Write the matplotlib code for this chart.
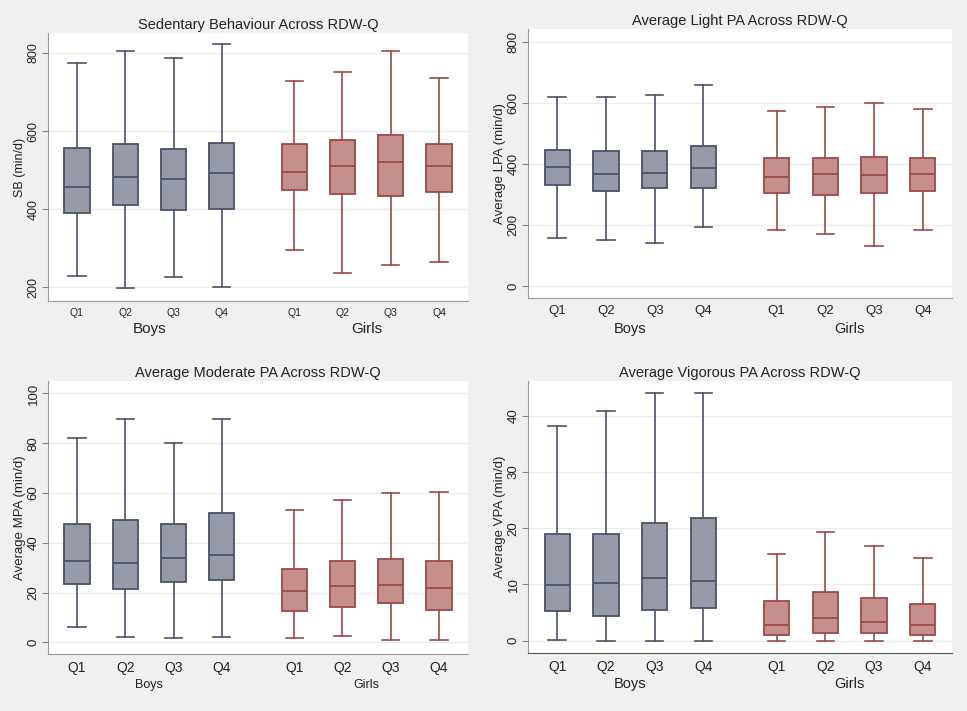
import matplotlib
matplotlib.use("Agg")
import matplotlib.pyplot as plt

plt.rcParams['font.family'] = ['Liberation Sans', 'DejaVu Sans']

quartiles = ["Q1", "Q2", "Q3", "Q4"]
groups = ["Boys", "Girls"]

# each stat row: lower whisker, Q1, median, Q3, upper whisker
sb_boys = [[230, 391, 458, 557, 774], [197, 410, 482, 568, 804],
           [226, 397, 477, 555, 787], [202, 400, 492, 570, 823]]
sb_girls = [[295, 450, 495, 566, 728], [236, 440, 510, 576, 750],
            [256, 433, 520, 589, 804], [264, 443, 511, 567, 736]]

lpa_boys = [[158, 332, 392, 447, 618], [153, 312, 369, 444, 618],
            [142, 321, 372, 444, 627], [194, 321, 388, 458, 659]]
lpa_girls = [[184, 307, 357, 419, 575], [172, 299, 367, 419, 586],
             [133, 304, 365, 424, 601], [184, 313, 367, 419, 579]]

mpa_boys = [[6.3, 23.4, 32.5, 47.5, 82.1], [2.3, 21.4, 32.0, 49.3, 89.8],
            [1.9, 24.2, 33.7, 47.4, 80.2], [2.1, 24.9, 34.9, 52.1, 89.6]]
mpa_girls = [[1.9, 12.4, 20.5, 29.6, 53.3], [2.7, 14.3, 22.6, 32.5, 57.3],
             [1.1, 15.9, 23.0, 33.6, 60.1], [0.9, 12.9, 21.8, 32.5, 60.5]]

vpa_boys = [[0.2, 5.3, 9.9, 19.0, 38.2], [0.0, 4.3, 10.3, 19.0, 40.8],
            [0.0, 5.5, 11.2, 21.0, 44.0], [0.0, 5.8, 10.6, 21.8, 44.0]]
vpa_girls = [[0.0, 1.0, 2.8, 7.0, 15.5], [0.0, 1.4, 4.0, 8.7, 19.3],
             [0.0, 1.4, 3.4, 7.5, 16.8], [0.0, 1.0, 2.8, 6.6, 14.7]]

titles = ["Sedentary Behaviour Across RDW-Q", "Average Light PA Across RDW-Q",
          "Average Moderate PA Across RDW-Q", "Average Vigorous PA Across RDW-Q"]
ylabels = ["SB (min/d)", "Average LPA (min/d)", "Average MPA (min/d)", "Average VPA (min/d)"]
yticks = [[200, 400, 600, 800], [0, 200, 400, 600, 800],
          [0, 20, 40, 60, 80, 100], [0, 10, 20, 30, 40]]
ylims = [(165, 851), (-38, 842), (-4.7, 105), (-2.2, 46.2)]

data = [(sb_boys, sb_girls), (lpa_boys, lpa_girls),
        (mpa_boys, mpa_girls), (vpa_boys, vpa_girls)]

# pixel rects: left, right, top, bottom
rects = [(48, 468, 33, 301), (528, 952, 29, 298),
         (48, 468, 381, 654), (528, 952, 381, 653)]
# per panel font sizes: xtick, group label, ytick, ylabel
fonts = [(7.5, 11, 9, 9), (9.5, 10.5, 9.5, 9.5), (10, 9, 9.5, 9.5), (10, 10.5, 9.5, 9.5)]
group_off = [20, 22, 22, 22]

W, H = 967, 711
boy_fill, boy_edge = "#969ba7", "#4b5167"
girl_fill, girl_edge = "#c68f8d", "#9c4a47"

positions_boys = [1, 2, 3, 4]
positions_girls = [5.5, 6.5, 7.5, 8.5]

fig = plt.figure(figsize=(W / 100, H / 100), dpi=100, facecolor="#eff0f0")

for i in range(4):
    l, r, t, b = rects[i]
    ax = fig.add_axes([l / W, 1 - b / H, (r - l) / W, (b - t) / H])
    ax.set_facecolor("white")
    boys, girls = data[i]
    for stats_rows, pos, fill, edge in [(boys, positions_boys, boy_fill, boy_edge),
                                        (girls, positions_girls, girl_fill, girl_edge)]:
        stats = [dict(whislo=s[0], q1=s[1], med=s[2], q3=s[3], whishi=s[4], label=q)
                 for s, q in zip(stats_rows, quartiles)]
        ax.bxp(stats, positions=pos, widths=0.52, patch_artist=True, showfliers=False,
               capwidths=0.36,
               boxprops=dict(facecolor=fill, edgecolor=edge, linewidth=1.3),
               medianprops=dict(color=edge, linewidth=1.3),
               whiskerprops=dict(color=edge, linewidth=1.2),
               capprops=dict(color=edge, linewidth=1.2))

    xt, gf, yt, yl = fonts[i]
    ax.set_xlim(0.4, 9.1)
    ax.set_ylim(*ylims[i])
    ax.set_xticks(positions_boys + positions_girls)
    ax.set_xticklabels(quartiles + quartiles, fontsize=xt, color="#222222")
    ax.tick_params(axis="x", length=0, pad=5)
    ax.set_yticks(yticks[i])
    ax.set_yticklabels([str(v) for v in yticks[i]], fontsize=yt, rotation=90,
                       va="center", color="#222222")
    ax.tick_params(axis="y", length=4, color="#888888", pad=2)
    ax.yaxis.grid(True, color="#ececec", linewidth=1)
    ax.set_axisbelow(True)
    ax.set_ylabel(ylabels[i], fontsize=yl, color="#222222", labelpad=1)
    ax.set_title(titles[i], fontsize=10.5, color="#222222", pad=3)
    for side in ["top", "right"]:
        ax.spines[side].set_visible(False)
    ax.spines["left"].set_color("#999999")
    ax.spines["bottom"].set_color("#555555" if i == 3 else "#999999")
    for g, pos in zip(groups, [positions_boys, positions_girls]):
        ax.annotate(g, xy=(sum(pos) / 4, 0), xycoords=("data", "axes fraction"),
                    xytext=(0, -group_off[i]), textcoords="offset points",
                    ha="center", va="center", fontsize=gf, color="#222222")

fig.savefig("out.png", dpi=100, facecolor=fig.get_facecolor())
